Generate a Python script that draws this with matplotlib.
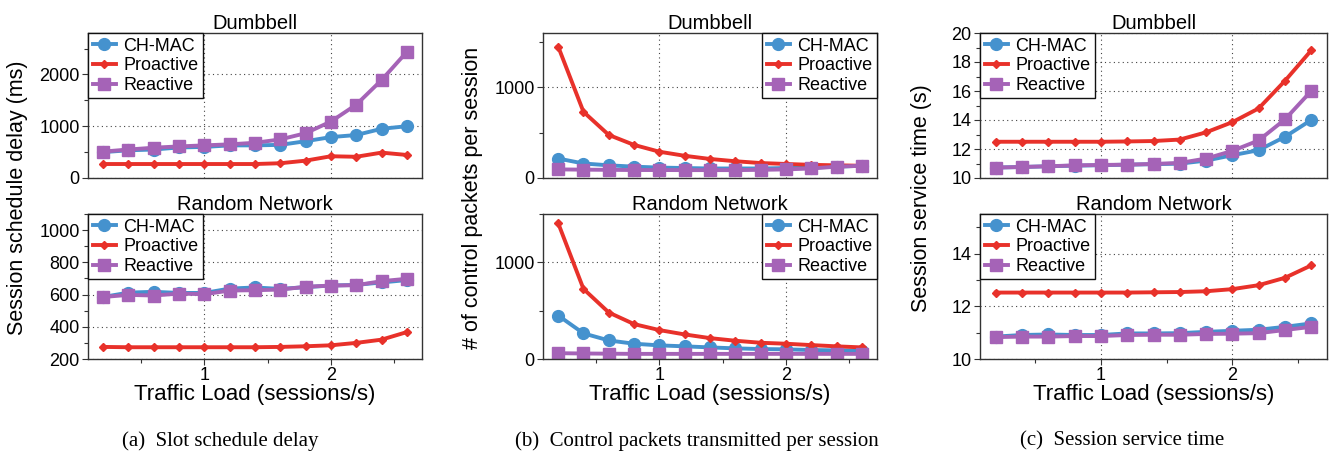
import numpy as np
import matplotlib.pyplot as plt
from matplotlib.ticker import MultipleLocator

plt.rcParams['font.family'] = ['Liberation Sans', 'DejaVu Sans']

# traffic load (sessions/s)
load = [0.2, 0.4, 0.6, 0.8, 1.0, 1.2, 1.4, 1.6, 1.8, 2.0, 2.2, 2.4, 2.6]

# (a) session schedule delay (ms)
delay_db_chmac = [500, 535, 550, 590, 600, 630, 630, 640, 710, 790, 830, 950, 1000]
delay_db_pro = [270, 270, 270, 270, 270, 270, 270, 285, 335, 420, 410, 490, 445]
delay_db_rea = [510, 550, 585, 610, 630, 650, 680, 745, 865, 1090, 1415, 1890, 2435]
delay_rn_chmac = [585, 612, 617, 610, 610, 637, 644, 635, 646, 656, 660, 675, 690]
delay_rn_pro = [275, 273, 273, 273, 273, 273, 273, 275, 279, 285, 300, 320, 367]
delay_rn_rea = [585, 598, 594, 606, 602, 625, 627, 631, 648, 656, 658, 683, 698]

# (b) control packets per session
ctrl_db_chmac = [215, 160, 140, 125, 115, 110, 105, 105, 105, 110, 115, 125, 135]
ctrl_db_pro = [1450, 730, 475, 365, 290, 245, 210, 185, 165, 155, 145, 140, 135]
ctrl_db_rea = [95, 92, 90, 88, 88, 87, 87, 87, 90, 95, 105, 125, 135]
ctrl_rn_chmac = [450, 265, 192, 158, 141, 131, 120, 110, 103, 100, 93, 89, 86]
ctrl_rn_pro = [1405, 725, 481, 361, 299, 254, 216, 189, 168, 158, 144, 131, 120]
ctrl_rn_rea = [60, 57, 55, 53, 53, 53, 53, 53, 53, 53, 53, 53, 53]

# (c) session service time (s)
serv_db_chmac = [10.72, 10.76, 10.81, 10.85, 10.88, 10.92, 10.95, 10.99, 11.2, 11.57, 11.92, 12.84, 14.0]
serv_db_pro = [12.5, 12.5, 12.5, 12.5, 12.5, 12.52, 12.55, 12.65, 13.15, 13.85, 14.8, 16.7, 18.8]
serv_db_rea = [10.72, 10.76, 10.81, 10.87, 10.9, 10.92, 10.97, 11.04, 11.34, 11.87, 12.59, 14.04, 16.0]
serv_rn_chmac = [10.85, 10.91, 10.93, 10.91, 10.91, 10.97, 10.97, 10.98, 11.03, 11.07, 11.11, 11.22, 11.35]
serv_rn_pro = [12.52, 12.52, 12.52, 12.52, 12.52, 12.52, 12.53, 12.54, 12.57, 12.65, 12.8, 13.08, 13.55]
serv_rn_rea = [10.83, 10.85, 10.85, 10.87, 10.87, 10.91, 10.92, 10.92, 10.95, 10.96, 10.98, 11.1, 11.22]

labels = ["CH-MAC", "Proactive", "Reactive"]
colors = ["#4592ce", "#e8312a", "#a563b7"]
markers = ["o", "D", "s"]
msizes = [8.5, 4.5, 8]

fig = plt.figure(figsize=(13.34, 4.55), dpi=100)
W, H = 1334.0, 455.0

def add_ax(l, r, t, b):
    return fig.add_axes([l / W, 1 - b / H, (r - l) / W, (b - t) / H])

def draw(ax, series, title, ylim, major, minor, loc, show_x):
    for s, lab, c, m, ms in zip(series, labels, colors, markers, msizes):
        ax.plot(load, s, color=c, marker=m, markersize=ms, lw=2.8, label=lab)
    ax.set_xlim(0.08, 2.72)
    ax.set_ylim(*ylim)
    ax.xaxis.set_major_locator(MultipleLocator(1))
    ax.xaxis.set_minor_locator(MultipleLocator(0.5))
    ax.yaxis.set_major_locator(MultipleLocator(major))
    ax.yaxis.set_minor_locator(MultipleLocator(minor))
    ax.grid(True, which="major", ls=(0, (1, 3)), color="#444444", lw=0.8)
    ax.tick_params(labelsize=13, length=4, width=0.8, color="#333333", pad=2)
    ax.tick_params(which="minor", length=3, width=0.8, color="#333333")
    if not show_x:
        ax.tick_params(axis="x", which="both", bottom=False, labelbottom=False)
    for sp in ax.spines.values():
        sp.set_color("#333333")
        sp.set_linewidth(1.0)
    ax.set_title(title, fontsize=14.5, pad=3)
    leg = ax.legend(loc=loc, fontsize=13, frameon=True, fancybox=False,
                    borderpad=0.25, labelspacing=0.15, handlelength=1.3,
                    handletextpad=0.4, borderaxespad=0.0)
    leg.get_frame().set_edgecolor("#111111")
    leg.get_frame().set_linewidth(1.0)
    leg.get_frame().set_alpha(1.0)

panels = [
    (88, 422, "Session schedule delay (ms)", "upper left",
     [delay_db_chmac, delay_db_pro, delay_db_rea], (0, 2800), 1000, 500,
     [delay_rn_chmac, delay_rn_pro, delay_rn_rea], (200, 1100), 200, 100,
     "(a)  Slot schedule delay", 220),
    (543, 877, "# of control packets per session", "upper right",
     [ctrl_db_chmac, ctrl_db_pro, ctrl_db_rea], (0, 1600), 1000, 500,
     [ctrl_rn_chmac, ctrl_rn_pro, ctrl_rn_rea], (0, 1500), 1000, 500,
     "(b)  Control packets transmitted per session", 697),
    (980, 1327, "Session service time (s)", "upper left",
     [serv_db_chmac, serv_db_pro, serv_db_rea], (10, 20), 2, 1,
     [serv_rn_chmac, serv_rn_pro, serv_rn_rea], (10, 15.5), 2, 1,
     "(c)  Session service time", 1122),
]

for (l, r, ylab, loc, s1, yl1, mj1, mn1, s2, yl2, mj2, mn2, cap, capx) in panels:
    ax1 = add_ax(l, r, 33, 178)
    draw(ax1, s1, "Dumbbell", yl1, mj1, mn1, loc, False)
    ax2 = add_ax(l, r, 214, 359)
    draw(ax2, s2, "Random Network", yl2, mj2, mn2, loc, True)
    ax2.set_xlabel("Traffic Load (sessions/s)", fontsize=16, labelpad=0)
    ylx = (l - 70) / W if l < 900 else (l - 58) / W
    fig.text(ylx, 1 - 198 / H, ylab, rotation=90, fontsize=15.5,
             ha="center", va="center")
    fig.text(capx / W, 1 - 441 / H, cap, fontsize=15, ha="center", va="center",
             family=["Liberation Serif", "DejaVu Serif"])

fig.savefig("out.png", dpi=100)
